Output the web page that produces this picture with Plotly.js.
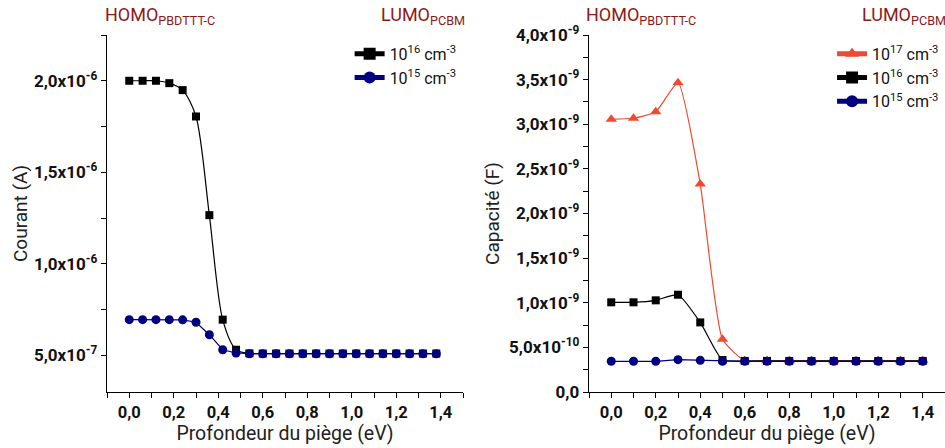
<!DOCTYPE html>
<html>
<head>
<meta charset="utf-8">
<script src="https://cdn.plot.ly/plotly-3.0.1.min.js"></script>
<style>html,body{margin:0;padding:0;background:#fff;}#chart{width:945px;height:448px;}</style>
</head>
<body>
<div id="chart"></div>
<script>
// ---- Left panel: current vs trap depth ----
const xCurrent = [0, 0.06, 0.12, 0.18, 0.24, 0.30, 0.36, 0.42, 0.48, 0.54, 0.60, 0.66, 0.72, 0.78, 0.84, 0.90, 0.96, 1.02, 1.08, 1.14, 1.20, 1.26, 1.32, 1.38];
const current1e16 = [2.0e-6, 2.0e-6, 2.0e-6, 1.987e-6, 1.949e-6, 1.805e-6, 1.266e-6, 0.695e-6, 0.531e-6, 0.511e-6, 0.51e-6, 0.51e-6, 0.51e-6, 0.51e-6, 0.51e-6, 0.51e-6, 0.51e-6, 0.51e-6, 0.51e-6, 0.51e-6, 0.51e-6, 0.51e-6, 0.51e-6, 0.51e-6];
const current1e15 = [0.695e-6, 0.695e-6, 0.695e-6, 0.695e-6, 0.694e-6, 0.681e-6, 0.613e-6, 0.531e-6, 0.513e-6, 0.509e-6, 0.509e-6, 0.509e-6, 0.509e-6, 0.509e-6, 0.509e-6, 0.509e-6, 0.509e-6, 0.509e-6, 0.509e-6, 0.509e-6, 0.509e-6, 0.509e-6, 0.509e-6, 0.509e-6];

// ---- Right panel: capacitance vs trap depth ----
const xCap = [0, 0.1, 0.2, 0.3, 0.4, 0.5, 0.6, 0.7, 0.8, 0.9, 1.0, 1.1, 1.2, 1.3, 1.4];
const cap1e17 = [3.055e-9, 3.067e-9, 3.14e-9, 3.466e-9, 2.33e-9, 0.59e-9, 0.35e-9, 0.35e-9, 0.35e-9, 0.35e-9, 0.35e-9, 0.35e-9, 0.35e-9, 0.35e-9, 0.35e-9];
const cap1e16 = [1.005e-9, 1.005e-9, 1.027e-9, 1.09e-9, 0.78e-9, 0.358e-9, 0.348e-9, 0.348e-9, 0.348e-9, 0.348e-9, 0.348e-9, 0.348e-9, 0.348e-9, 0.348e-9, 0.348e-9];
const cap1e15 = [0.344e-9, 0.344e-9, 0.344e-9, 0.362e-9, 0.355e-9, 0.344e-9, 0.344e-9, 0.344e-9, 0.344e-9, 0.344e-9, 0.344e-9, 0.344e-9, 0.344e-9, 0.344e-9, 0.344e-9];

// ---- Tick labels ----
const curTickVals = [5e-7, 1.0e-6, 1.5e-6, 2.0e-6];
const curTickText = ['5,0x10<sup>-7</sup>', '1,0x10<sup>-6</sup>', '1,5x10<sup>-6</sup>', '2,0x10<sup>-6</sup>'];
const curMinorVals = [2.5e-7, 7.5e-7, 1.25e-6, 1.75e-6, 2.25e-6];
const capTickVals = [0, 0.5e-9, 1.0e-9, 1.5e-9, 2.0e-9, 2.5e-9, 3.0e-9, 3.5e-9, 4.0e-9];
const capTickText = ['0,0', '5,0x10<sup>-10</sup>', '1,0x10<sup>-9</sup>', '1,5x10<sup>-9</sup>', '2,0x10<sup>-9</sup>', '2,5x10<sup>-9</sup>', '3,0x10<sup>-9</sup>', '3,5x10<sup>-9</sup>', '4,0x10<sup>-9</sup>'];
const capMinorVals = [0.25e-9, 0.75e-9, 1.25e-9, 1.75e-9, 2.25e-9, 2.75e-9, 3.25e-9, 3.75e-9];

const legendNames = ['10<sup>17</sup> cm<sup>-3</sup>', '10<sup>16</sup> cm<sup>-3</sup>', '10<sup>15</sup> cm<sup>-3</sup>'];

const RED = '#f04a32', BLACK = '#000000', NAVY = '#000080', DARKRED = '#8c1a1a';
const FONT = 'Roboto, "Liberation Sans", Arial, sans-serif';

const traces = [
  {x: xCurrent, y: current1e16, name: legendNames[1], xaxis: 'x', yaxis: 'y', legend: 'legend',
   mode: 'lines+markers', line: {color: BLACK, width: 1.2, shape: 'spline', smoothing: 0.8},
   marker: {symbol: 'square', size: 8, color: BLACK}},
  {x: xCurrent, y: current1e15, name: legendNames[2], xaxis: 'x', yaxis: 'y', legend: 'legend',
   mode: 'lines+markers', line: {color: NAVY, width: 1.2},
   marker: {symbol: 'circle', size: 9, color: NAVY}},
  {x: xCap, y: cap1e17, name: legendNames[0], xaxis: 'x2', yaxis: 'y2', legend: 'legend2',
   mode: 'lines+markers', line: {color: RED, width: 1.2, shape: 'spline', smoothing: 0.5},
   marker: {symbol: 'triangle-up', size: 10, color: RED}},
  {x: xCap, y: cap1e16, name: legendNames[1], xaxis: 'x2', yaxis: 'y2', legend: 'legend2',
   mode: 'lines+markers', line: {color: BLACK, width: 1.2, shape: 'spline', smoothing: 0.5},
   marker: {symbol: 'square', size: 8, color: BLACK}},
  {x: xCap, y: cap1e15, name: legendNames[2], xaxis: 'x2', yaxis: 'y2', legend: 'legend2',
   mode: 'lines+markers', line: {color: NAVY, width: 1.2},
   marker: {symbol: 'circle', size: 9, color: NAVY}}
];

const yDom = [56/448, 413/448];
const xDom1 = [107/945, 463/945];
const xDom2 = [589/945, 1];

function xAxisDef(domain, anchor) {
  return {
    domain: domain, anchor: anchor, range: [-0.1, 1.5],
    tickmode: 'linear', tick0: 0, dtick: 0.2, tickformat: '.1f',
    ticks: 'outside', ticklen: 5, tickwidth: 1, tickcolor: '#000',
    minor: {dtick: 0.1, tick0: 0, ticks: 'outside', ticklen: 5, tickcolor: '#000'},
    showline: true, linecolor: '#000', linewidth: 1.3, showgrid: false, zeroline: false,
    tickfont: {family: FONT, size: 16.5, color: '#111', weight: 'bold'},
    title: {text: 'Profondeur du piège (eV)', font: {family: FONT, size: 19.5, color: '#222'}, standoff: 4}
  };
}

const layout = {
  width: 945, height: 448,
  margin: {l: 0, r: 0, t: 0, b: 0},
  paper_bgcolor: '#fff', plot_bgcolor: '#fff',
  separators: ', ',
  font: {family: FONT},
  showlegend: true,
  xaxis: xAxisDef(xDom1, 'y'),
  xaxis2: xAxisDef(xDom2, 'y2'),
  yaxis: {
    domain: yDom, anchor: 'x', range: [0.3e-6, 2.25e-6],
    tickmode: 'array', tickvals: curTickVals, ticktext: curTickText,
    ticks: 'outside', ticklen: 5, tickcolor: '#000',
    minor: {tickmode: 'array', tickvals: curMinorVals, ticks: 'outside', ticklen: 5, tickcolor: '#000'},
    showline: true, linecolor: '#000', linewidth: 1.3, showgrid: false, zeroline: false,
    tickfont: {family: FONT, size: 17, color: '#111', weight: 'bold'},
    title: {text: 'Courant (A)', font: {family: FONT, size: 19, color: '#222'}, standoff: 1}
  },
  yaxis2: {
    domain: yDom, anchor: 'x2', range: [0, 4.0e-9],
    tickmode: 'array', tickvals: capTickVals, ticktext: capTickText,
    ticks: 'outside', ticklen: 5, tickcolor: '#000',
    minor: {tickmode: 'array', tickvals: capMinorVals, ticks: 'outside', ticklen: 5, tickcolor: '#000'},
    showline: true, linecolor: '#000', linewidth: 1.3, showgrid: false, zeroline: false,
    tickfont: {family: FONT, size: 17, color: '#111', weight: 'bold'},
    title: {text: 'Capacité (F)', font: {family: FONT, size: 19, color: '#222'}, standoff: 4}
  },
  // frame axes: top (both panels) and right (left panel)
  xaxis3: {overlaying: 'x', matches: 'x', side: 'top', anchor: 'y', showline: true, linecolor: '#000', linewidth: 1.3,
    tickmode: 'linear', tick0: -0.1, dtick: 0.1, ticks: 'inside', ticklen: 3, tickcolor: '#000', showticklabels: false, showgrid: false, zeroline: false},
  xaxis4: {overlaying: 'x2', matches: 'x2', side: 'top', anchor: 'y2', showline: true, linecolor: '#000', linewidth: 1.3,
    tickmode: 'linear', tick0: -0.1, dtick: 0.1, ticks: 'inside', ticklen: 3, tickcolor: '#000', showticklabels: false, showgrid: false, zeroline: false},
  yaxis3: {overlaying: 'y', matches: 'y', side: 'right', anchor: 'x', showline: true, linecolor: '#000', linewidth: 1.3,
    tickmode: 'array', tickvals: curTickVals.concat(curMinorVals), ticks: 'outside', ticklen: 3, tickcolor: '#000', showticklabels: false, showgrid: false, zeroline: false},
  legend: {x: 0.4885, xanchor: 'right', y: 0.918, yanchor: 'top', bgcolor: 'rgba(0,0,0,0)',
    font: {family: FONT, size: 16, color: '#111'}, itemsizing: 'constant', tracegroupgap: 0},
  legend2: {x: 0.999, xanchor: 'right', y: 0.918, yanchor: 'top', bgcolor: 'rgba(0,0,0,0)',
    font: {family: FONT, size: 16, color: '#111'}, itemsizing: 'constant', tracegroupgap: 0},
  annotations: [
    {xref: 'paper', yref: 'paper', x: 103/945, y: 1 - 16/448, xanchor: 'left', yanchor: 'middle', showarrow: false,
     text: 'HOMO<sub>PBDTTT-C</sub>', font: {family: FONT, size: 18, color: DARKRED}},
    {xref: 'paper', yref: 'paper', x: 467/945, y: 1 - 16/448, xanchor: 'right', yanchor: 'middle', showarrow: false,
     text: 'LUMO<sub>PCBM</sub>', font: {family: FONT, size: 18, color: DARKRED}},
    {xref: 'paper', yref: 'paper', x: 584/945, y: 1 - 16/448, xanchor: 'left', yanchor: 'middle', showarrow: false,
     text: 'HOMO<sub>PBDTTT-C</sub>', font: {family: FONT, size: 18, color: DARKRED}},
    {xref: 'paper', yref: 'paper', x: 948/945, y: 1 - 16/448, xanchor: 'right', yanchor: 'middle', showarrow: false,
     text: 'LUMO<sub>PCBM</sub>', font: {family: FONT, size: 18, color: DARKRED}}
  ]
};

Plotly.newPlot('chart', traces, layout, {displayModeBar: false, staticPlot: true});
</script>
</body>
</html>
